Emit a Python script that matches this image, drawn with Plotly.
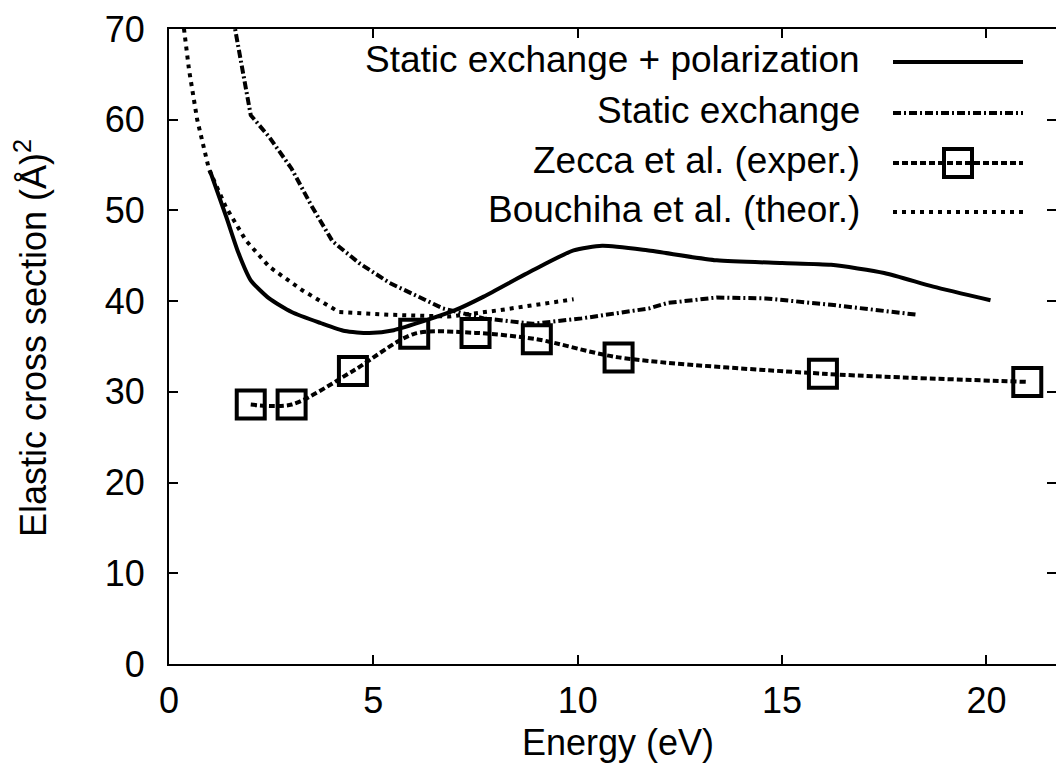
import plotly.graph_objects as go

# ---------------- data ----------------
sep_energy = [1.0, 1.4, 1.7, 2.0, 2.45, 3.0, 3.7, 4.3, 4.9, 5.5, 6.3, 7.0, 7.7, 8.9,
              9.9, 10.6, 11.7, 13.4, 15.0, 16.2, 17.5, 18.7, 20.1]
sep_sigma = [54.4, 49.3, 45.3, 42.3, 40.3, 38.8, 37.6, 36.7, 36.5, 36.8, 37.9, 39.0, 40.5, 43.4,
             45.6, 46.1, 45.6, 44.5, 44.2, 44.0, 43.1, 41.6, 40.1]

se_energy = [1.5, 2.0, 2.45, 3.0, 3.5, 4.0, 4.65, 5.4, 6.1, 6.7, 7.7, 8.9, 10.1, 10.9,
             11.75, 12.2, 13.4, 14.6, 16.2, 18.3]
se_sigma = [72.9, 60.5, 58.1, 54.6, 50.4, 46.6, 44.2, 42.0, 40.5, 39.2, 38.1, 37.5, 38.1, 38.6,
            39.2, 39.8, 40.4, 40.3, 39.6, 38.5]

zecca_energy = [2, 3, 4.5, 6, 7.5, 9, 11, 16, 21]
zecca_sigma = [28.6, 28.6, 32.3, 36.4, 36.5, 35.8, 33.8, 32.0, 31.1]

bou_energy = [0.3, 0.37, 0.49, 0.69, 0.98, 1.39, 1.88, 2.45, 3.26, 4.16, 5.4, 6.85, 8.08, 9.9]
bou_sigma = [72.0, 69.9, 65.5, 60.0, 54.5, 50.4, 46.7, 43.8, 41.2, 38.8, 38.5, 38.3, 39.0, 40.2]

legend_labels = ["Static exchange + polarization", "Static exchange",
                 "Zecca et al. (exper.)", "Bouchiha et al. (theor.)"]

x_ticks = [0, 5, 10, 15, 20]
y_ticks = [0, 10, 20, 30, 40, 50, 60, 70]

# ---------------- layout geometry (page pixels) ----------------
OFF = 8                      # default body margin of the html page
PAGE_W, PAGE_H = 1064, 782
W, H = PAGE_W - 2 * OFF, PAGE_H - 2 * OFF      # keep the page from overflowing
L, T, B = 169 - OFF, 29 - OFF, 664 - OFF       # plot area in figure pixels
R = W
XMAX = (R - L) / 40.87
FONT = "Liberation Sans, Arial, Helvetica, sans-serif"
FS = 36
FS_LEG = 37


def px_x(p):   # page pixel -> paper
    return (p - OFF - L) / (R - L)


def px_y(p):
    return (B - (p - OFF)) / (B - T)


DASHDOT = "8px,3px,2px,3px"
DASHED = "6px,3px"
DOTTED = "4px,5px"

fig = go.Figure()

fig.add_trace(go.Scatter(x=sep_energy, y=sep_sigma, mode="lines",
                         line=dict(color="black", width=4, shape="spline", smoothing=0.6),
                         showlegend=False))
fig.add_trace(go.Scatter(x=se_energy, y=se_sigma, mode="lines",
                         line=dict(color="black", width=4, dash=DASHDOT),
                         showlegend=False))
fig.add_trace(go.Scatter(x=zecca_energy, y=zecca_sigma, mode="lines+markers",
                         line=dict(color="black", width=4, dash=DASHED, shape="spline", smoothing=0.8),
                         marker=dict(symbol="square-open", size=28, color="black",
                                     line=dict(width=4, color="black")),
                         showlegend=False))
fig.add_trace(go.Scatter(x=bou_energy, y=bou_sigma, mode="lines",
                         line=dict(color="black", width=4, dash=DOTTED),
                         showlegend=False))

# ---- custom legend (text on left, sample on right), on a page-pixel overlay axis ----
row_y = [62, 113, 163, 212]
sx0, sx1 = 893, 1023
styles = [dict(width=4), dict(width=4, dash=DASHDOT), dict(width=4, dash=DASHED),
          dict(width=4, dash=DOTTED)]
for ry, st in zip(row_y, styles):
    fig.add_trace(go.Scatter(x=[sx0, sx1], y=[ry, ry], mode="lines", xaxis="x2", yaxis="y3",
                             line=dict(color="black", **st), showlegend=False, hoverinfo="skip"))
fig.add_trace(go.Scatter(x=[(sx0 + sx1) / 2], y=[row_y[2]], mode="markers", xaxis="x2", yaxis="y3",
                         marker=dict(symbol="square-open", size=28, color="black",
                                     line=dict(width=4, color="black")),
                         showlegend=False, hoverinfo="skip"))
# dummy trace for the right-hand tick axis
fig.add_trace(go.Scatter(x=[None], y=[None], yaxis="y2", showlegend=False))

annotations = []
for ry, lab in zip(row_y, legend_labels):
    annotations.append(dict(text=lab, xref="paper", yref="paper", x=px_x(862), y=px_y(ry - 3),
                            xanchor="right", yanchor="middle", showarrow=False,
                            font=dict(family=FONT, size=FS_LEG, color="black")))
annotations.append(dict(text="Energy (eV)", xref="paper", yref="paper", x=px_x(618), y=px_y(742),
                        xanchor="center", yanchor="middle", showarrow=False,
                        font=dict(family=FONT, size=FS, color="black")))
annotations.append(dict(text="Elastic cross section (Å)<sup>2</sup>", xref="paper", yref="paper",
                        x=px_x(31), y=px_y(338), xanchor="center", yanchor="middle",
                        textangle=-90, showarrow=False,
                        font=dict(family=FONT, size=FS, color="black")))

axis_common = dict(showgrid=False, zeroline=False, ticks="inside", ticklen=9, tickwidth=1.5,
                   tickcolor="black", linecolor="black", linewidth=2,
                   tickfont=dict(family=FONT, size=FS, color="black"))

fig.update_layout(
    width=W, height=H,
    margin=dict(l=L, r=W - R, t=T, b=H - B, pad=0, autoexpand=False),
    paper_bgcolor="white", plot_bgcolor="white",
    xaxis=dict(range=[0, XMAX], tickvals=x_ticks, showline=True, mirror="ticks",
               ticklabelstandoff=4, automargin=False, **axis_common),
    yaxis=dict(range=[0, 70], tickvals=y_ticks, showline=True, mirror=False,
               ticklabelstandoff=15, automargin=False, **axis_common),
    yaxis2=dict(range=[0, 70], tickvals=y_ticks, overlaying="y", side="right", showline=False,
                showticklabels=False, showgrid=False, zeroline=False, ticks="inside",
                ticklen=9, tickwidth=1.5, tickcolor="black"),
    xaxis2=dict(range=[L + OFF, R + OFF], overlaying="x", visible=False),
    yaxis3=dict(range=[B + OFF, T + OFF], overlaying="y", visible=False),
    annotations=annotations,
    showlegend=False,
)

fig.write_html("out.html")
